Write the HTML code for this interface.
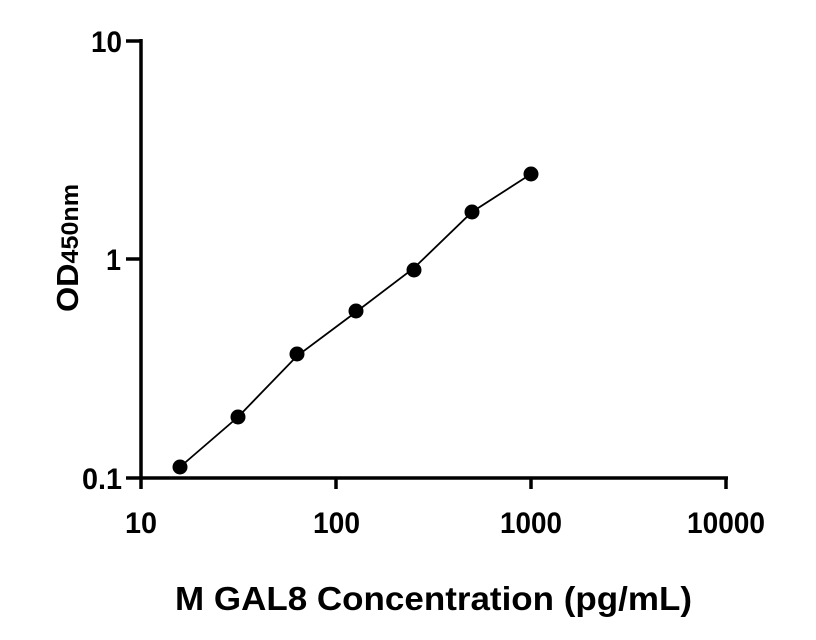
<!DOCTYPE html>
<html><head><style>body{margin:0;background:#fff}svg{display:block}</style></head><body>
<svg width="816" height="640" xmlns="http://www.w3.org/2000/svg" font-family="Liberation Sans, sans-serif" font-weight="bold">
<g stroke="#000" stroke-width="3.5" fill="none">
<line x1="141" y1="39" x2="141" y2="489"/>
<line x1="126" y1="478" x2="728" y2="478"/>
<line x1="126" y1="41" x2="141" y2="41"/>
<line x1="126" y1="259" x2="141" y2="259"/>
<line x1="336" y1="478" x2="336" y2="489"/>
<line x1="531" y1="478" x2="531" y2="489"/>
<line x1="726" y1="478" x2="726" y2="489"/>
</g>
<g font-size="30">
<text x="91" y="52" textLength="31" lengthAdjust="spacingAndGlyphs">10</text>
<text x="106" y="270" textLength="15" lengthAdjust="spacingAndGlyphs">1</text>
<text x="82" y="489" textLength="40" lengthAdjust="spacingAndGlyphs">0.1</text>
<text x="125" y="533" textLength="32" lengthAdjust="spacingAndGlyphs">10</text>
<text x="313" y="533" textLength="47" lengthAdjust="spacingAndGlyphs">100</text>
<text x="500" y="533" textLength="62" lengthAdjust="spacingAndGlyphs">1000</text>
<text x="687" y="533" textLength="78" lengthAdjust="spacingAndGlyphs">10000</text>
</g>
<text x="175" y="610" font-size="33" textLength="517" lengthAdjust="spacingAndGlyphs">M GAL8 Concentration (pg/mL)</text>
<text transform="translate(78,312) rotate(-90)" font-size="31" textLength="128" lengthAdjust="spacingAndGlyphs">OD<tspan font-size="24">450nm</tspan></text>
<path d="M180,467 L238,417 L297,356 L356,312 L414,268 Q445,238 472,212 L531,174" stroke="#000" stroke-width="1.8" fill="none"/>
<g fill="#000">
<circle cx="180" cy="467" r="7.5"/><circle cx="238" cy="417" r="7.5"/><circle cx="297" cy="354" r="7.5"/>
<circle cx="356" cy="311" r="7.5"/><circle cx="414" cy="270" r="7.5"/><circle cx="472" cy="212" r="7.5"/><circle cx="531" cy="174" r="7.5"/>
</g>
</svg>
</body></html>
